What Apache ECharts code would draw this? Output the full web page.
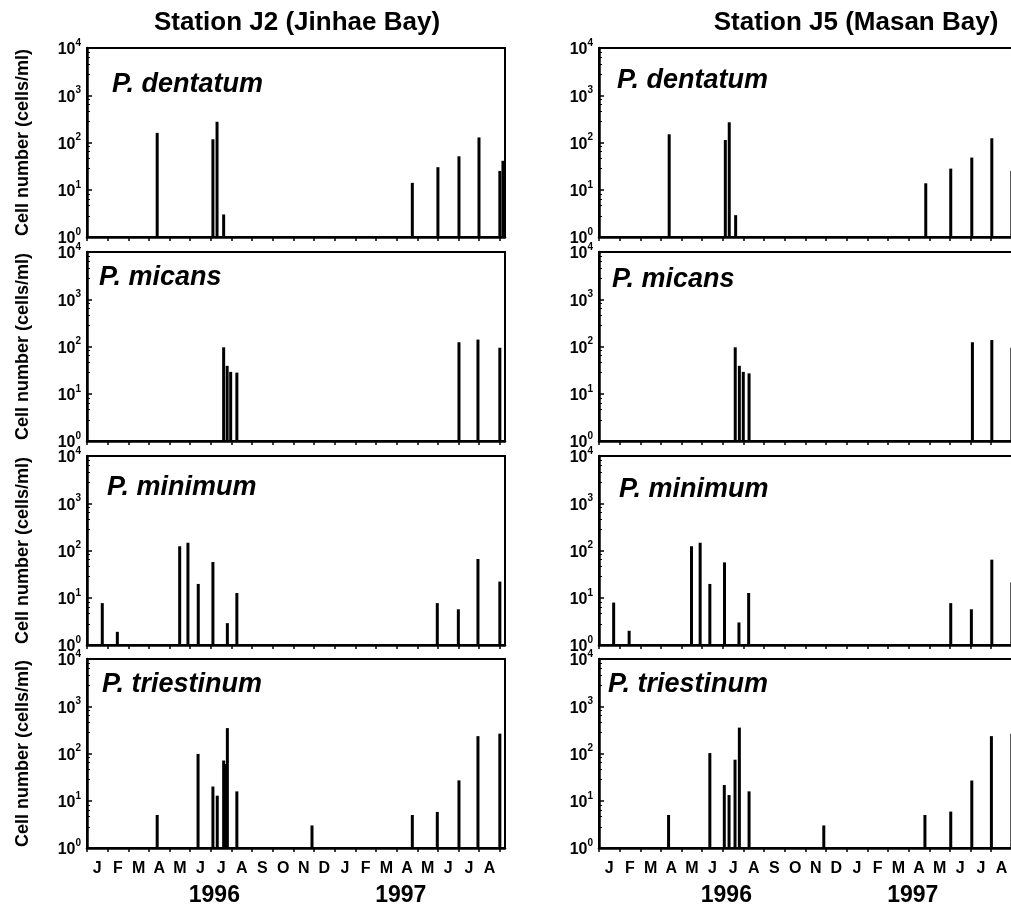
<!DOCTYPE html>
<html>
<head>
<meta charset="utf-8">
<script src="https://cdn.jsdelivr.net/npm/echarts@6/dist/echarts.min.js"></script>
<style>
  html, body { margin: 0; padding: 0; background: #fff; }
  #chart { width: 1011px; height: 908px; }
</style>
</head>
<body>
<div id="chart"></div>
<script>
// x = months counted from 1 Jan 1996 (0 = start of Jan 96, 12 = start of Jan 97)
let monthLabels = ['J', 'F', 'M', 'A', 'M', 'J', 'J', 'A', 'S', 'O', 'N', 'D',
  'J', 'F', 'M', 'A', 'M', 'J', 'J', 'A']
let yearLabels = ['1996', '1997']
let yearPos = [6.17, 15.2]
let stations = ['Station J2 (Jinhae Bay)', 'Station J5 (Masan Bay)']
let species = ['P. dentatum', 'P. micans', 'P. minimum', 'P. triestinum']

// [month, cells/ml]
let j2Dentatum = [[3.4, 160], [6.1, 117], [6.3, 275], [6.62, 3], [15.76, 14],
  [17.0, 30], [18.02, 51], [18.99, 128], [20.0, 25], [20.15, 41]]
let j2Micans = [[6.62, 96], [6.79, 39], [6.96, 29], [7.26, 28], [18.02, 123],
  [18.94, 140], [20.0, 94]]
let j2Minimum = [[0.74, 7.7], [1.47, 1.9], [4.49, 123], [4.89, 146], [5.39, 19.6],
  [6.1, 57], [6.8, 2.9], [7.26, 12.6], [16.97, 7.7], [17.99, 5.7], [18.94, 66], [20.0, 22]]
let j2Triestinum = [[3.4, 5], [5.38, 98], [6.1, 20], [6.31, 12.8], [6.62, 71],
  [6.7, 60], [6.8, 345], [7.26, 15.8], [10.9, 3], [15.76, 5], [16.97, 5.8],
  [18.02, 27], [18.94, 233], [20.0, 263]]

let j5Dentatum = [[3.4, 149], [6.12, 113], [6.31, 268], [6.62, 2.9], [15.83, 13.7],
  [17.04, 28], [18.06, 48], [19.03, 123], [20.0, 25]]
let j5Micans = [[6.6, 96], [6.8, 39], [6.99, 29], [7.27, 27], [18.09, 123],
  [19.03, 137], [20.0, 94]]
let j5Minimum = [[0.71, 7.9], [1.46, 2], [4.48, 123], [4.9, 146], [5.37, 19.6],
  [6.08, 56], [6.78, 3], [7.25, 12.6], [17.04, 7.7], [18.04, 5.7], [19.03, 64], [20.0, 21]]
let j5Triestinum = [[3.37, 5], [5.37, 102], [6.07, 21.5], [6.3, 13.2], [6.59, 74],
  [6.8, 353], [7.27, 15.8], [10.89, 3], [15.79, 5], [17.04, 5.9], [18.06, 26.8],
  [19.01, 233], [20.0, 263]]

let columns = [
  [j2Dentatum, j2Micans, j2Minimum, j2Triestinum],
  [j5Dentatum, j5Micans, j5Minimum, j5Triestinum]
]

// layout
let font = 'Liberation Sans, Arial, Helvetica, sans-serif'
let colLeft = [87, 599]
let rowTop = [48, 252, 456, 659]
let gridW = 418
let gridH = 189
let xMax = 20.25
let stationX = [297, 856]
// species label corner per panel [left, top]
let labelPos = [
  [[112, 71], [99, 264], [107, 474], [102, 671]],
  [[617, 67], [612, 266], [619, 476], [608, 671]]
]

let monthTicks = monthLabels.map((m, i) => i).concat([monthLabels.length])
let monthMid = monthLabels.map((m, i) => i + 0.5)

let grids = []
let xAxes = []
let yAxes = []
let series = []
let titles = []

stations.forEach((s, c) => {
  titles.push({
    text: s,
    left: stationX[c],
    top: 10,
    textAlign: 'center',
    padding: 0,
    textStyle: { fontFamily: font, fontSize: 26, fontWeight: 'bold', color: '#000' }
  })
})

columns.forEach((col, c) => {
  col.forEach((data, r) => {
    let idx = grids.length
    let bottomRow = r === col.length - 1
    grids.push({
      left: colLeft[c],
      top: rowTop[r],
      width: gridW,
      height: gridH,
      outerBoundsMode: 'none',
      containLabel: false,
      show: true,
      borderColor: '#000',
      borderWidth: 2,
      backgroundColor: 'transparent'
    })
    xAxes.push({
      type: 'value',
      gridIndex: idx,
      min: 0,
      max: xMax,
      position: 'bottom',
      axisLine: { show: true, onZero: false, lineStyle: { color: '#000', width: 2.5 } },
      axisTick: {
        show: true,
        customValues: monthTicks,
        length: 4,
        lineStyle: { color: '#000', width: 1.5 }
      },
      axisLabel: {
        show: bottomRow,
        customValues: monthMid,
        formatter: function(v) {
          return monthLabels[Math.floor(v)] || ''
        },
        margin: 13,
        fontFamily: font,
        fontSize: 16,
        fontWeight: 'bold',
        color: '#000'
      },
      splitLine: { show: false }
    })
    if (bottomRow) {
      xAxes.push({
        type: 'value',
        gridIndex: idx,
        min: 0,
        max: xMax,
        position: 'bottom',
        axisLine: { show: false, onZero: false },
        axisTick: { show: false },
        axisLabel: {
          customValues: yearPos,
          formatter: function(v) {
            return yearLabels[yearPos.indexOf(v)] || ''
          },
          margin: 36,
          fontFamily: font,
          fontSize: 23,
          fontWeight: 'bold',
          color: '#000'
        },
        splitLine: { show: false }
      })
    }
    yAxes.push({
      type: 'log',
      logBase: 10,
      gridIndex: idx,
      min: 1,
      max: 10000,
      splitNumber: 4,
      name: c === 0 ? 'Cell number (cells/ml)' : '',
      nameLocation: 'middle',
      nameRotate: 90,
      nameGap: 55,
      nameTextStyle: { fontFamily: font, fontSize: 18, fontWeight: 'bold', color: '#000' },
      axisLine: { show: true, onZero: false, lineStyle: { color: '#000', width: 2.5 } },
      axisTick: { show: true, inside: true, length: 5, lineStyle: { color: '#000', width: 1.5 } },
      minorTick: { show: true, splitNumber: 5, length: 3, lineStyle: { color: '#000', width: 1 } },
      axisLabel: {
        margin: 6,
        formatter: function(v) {
          let e = Math.round(Math.log10(v))
          return '{b|10}{s|' + e + '}'
        },
        rich: {
          b: { fontFamily: font, fontSize: 16, fontWeight: 'bold', color: '#000', verticalAlign: 'bottom', lineHeight: 20 },
          s: { fontFamily: font, fontSize: 10, fontWeight: 'bold', color: '#000', verticalAlign: 'top', lineHeight: 20 }
        }
      },
      splitLine: { show: false },
      minorSplitLine: { show: false }
    })
    titles.push({
      text: species[r],
      left: labelPos[c][r][0],
      top: labelPos[c][r][1],
      padding: 0,
      textStyle: { fontFamily: font, fontSize: 27, fontWeight: 'bold', fontStyle: 'italic', color: '#000' }
    })
    series.push({
      type: 'bar',
      xAxisIndex: xAxes.length - (bottomRow ? 2 : 1),
      yAxisIndex: idx,
      data: data,
      barWidth: 3,
      itemStyle: { color: '#000' },
      silent: true
    })
  })
})

let myChart = echarts.init(document.getElementById('chart'))
myChart.setOption({
  animation: false,
  backgroundColor: '#fff',
  textStyle: { fontFamily: font },
  title: titles,
  grid: grids,
  xAxis: xAxes,
  yAxis: yAxes,
  series: series
})
</script>
</body>
</html>
